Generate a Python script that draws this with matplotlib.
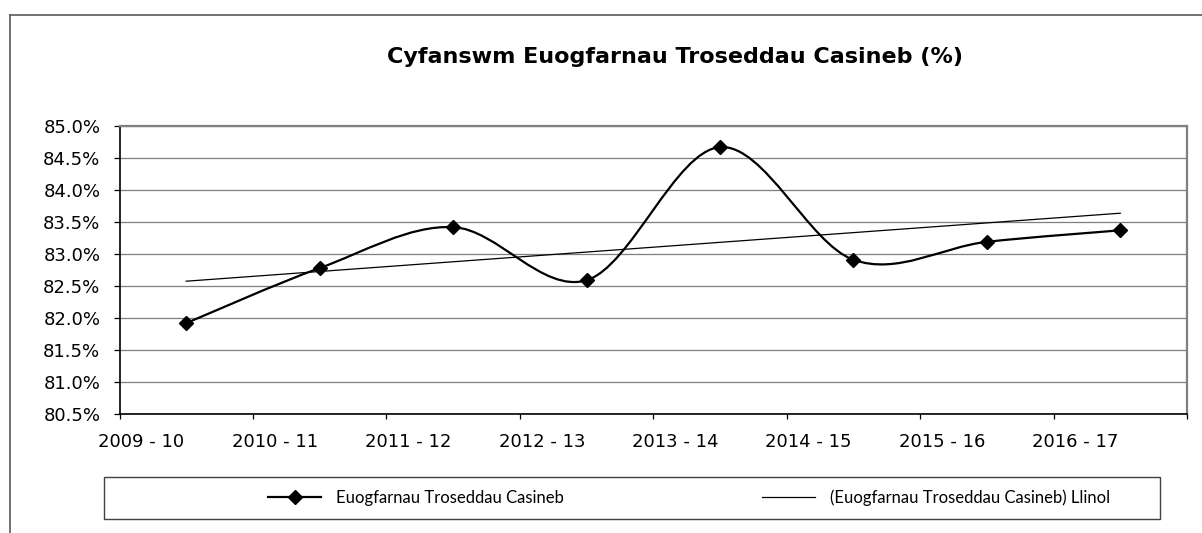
import numpy as np
import matplotlib
matplotlib.use("Agg")
import matplotlib.pyplot as plt
from matplotlib.path import Path
from matplotlib.patches import PathPatch, Rectangle
from matplotlib.lines import Line2D
from matplotlib.ticker import FixedLocator, FuncFormatter

# ---------------- data ----------------
categories = ["2009 - 10", "2010 - 11", "2011 - 12", "2012 - 13",
              "2013 - 14", "2014 - 15", "2015 - 16", "2016 - 17"]
values = [81.92, 82.78, 83.42, 82.59, 84.67, 82.91, 83.19, 83.37]
y_ticks = [80.5, 81.0, 81.5, 82.0, 82.5, 83.0, 83.5, 84.0, 84.5, 85.0]
title = "Cyfanswm Euogfarnau Troseddau Casineb (%)"
series_label = "Euogfarnau Troseddau Casineb"
trend_label = "(Euogfarnau Troseddau Casineb) Llinol"

W, H = 1202, 533
fig = plt.figure(figsize=(W / 100, H / 100), dpi=100)
fig.patch.set_facecolor("white")

def fx(px):
    return px / W

def fy(py):
    return 1 - py / H

ax_l, ax_r, ax_t, ax_b = 119.5, 1187, 126, 414
ax = fig.add_axes([fx(ax_l), fy(ax_b), fx(ax_r - ax_l), (ax_b - ax_t) / H])

n = len(values)
xpos = np.arange(n) + 0.5
y = np.array(values)

# smoothed line (Excel-like Catmull-Rom bezier)
P = np.column_stack([xpos, y])
verts = [P[0]]
codes = [Path.MOVETO]
for i in range(n - 1):
    p_prev = P[i - 1] if i > 0 else P[i]
    p_next2 = P[i + 2] if i + 2 < n else P[i + 1]
    c1 = P[i] + (P[i + 1] - p_prev) / 6.0
    c2 = P[i + 1] - (p_next2 - P[i]) / 6.0
    verts += [c1, c2, P[i + 1]]
    codes += [Path.CURVE4] * 3
ax.add_patch(PathPatch(Path(verts, codes), fill=False, edgecolor="black",
                       lw=1.6, capstyle="round", joinstyle="round", zorder=3))
ax.plot(xpos, y, ls="none", marker="D", ms=6.8, color="black", zorder=4)

# linear trend line
coef = np.polyfit(np.arange(1, n + 1), y, 1)
trend = np.polyval(coef, np.arange(1, n + 1))
ax.plot(xpos, trend, color="black", lw=0.9, zorder=3)

# axes
ax.set_xlim(0, n)
ax.set_ylim(y_ticks[0], y_ticks[-1])
ax.yaxis.set_major_locator(FixedLocator(y_ticks))
ax.yaxis.set_major_formatter(FuncFormatter(lambda v, p: f"{v:.1f}%"))
ax.yaxis.grid(True, color="#7f7f7f", lw=0.9)
ax.set_axisbelow(True)

ax.xaxis.set_major_locator(FixedLocator(np.arange(n + 1)))
ax.xaxis.set_major_formatter(FuncFormatter(lambda v, p: ""))
ax.xaxis.set_minor_locator(FixedLocator(np.arange(n) + 0.165))
ax.xaxis.set_minor_formatter(FuncFormatter(lambda v, p: categories[int(round(v - 0.165))]))
ax.tick_params(axis="x", which="major", direction="out", length=3.8, width=0.9, color="black")
ax.tick_params(axis="x", which="minor", length=0, pad=13.5, labelsize=13)
ax.tick_params(axis="y", direction="out", length=4.3, width=0.9, color="black", pad=9.5, labelsize=13)
for lab in ax.get_xticklabels(minor=True) + ax.get_yticklabels():
    lab.set_fontfamily("DejaVu Sans")
    lab.set_color("black")

for s in ["left", "bottom"]:
    ax.spines[s].set_color("black")
    ax.spines[s].set_linewidth(1.2)
for s in ["top", "right"]:
    ax.spines[s].set_color("#808080")
    ax.spines[s].set_linewidth(1.6)

# title
fig.text(fx(675), fy(57), title, ha="center", va="center", fontsize=16,
         fontweight="bold", family="DejaVu Sans")

# outer chart frame
fig.add_artist(Line2D([fx(10), fx(W + 5)], [fy(15), fy(15)], color="#595959", lw=1.2))
fig.add_artist(Line2D([fx(10), fx(10)], [fy(15), fy(H + 5)], color="#595959", lw=1.2))

# legend box
fig.add_artist(Rectangle((fx(104), fy(519)), fx(1160 - 104), (519 - 477) / H,
                         fill=False, edgecolor="#404040", lw=1.0))
leg_font = {"family": "Lato", "size": 12}
h1 = Line2D([], [], color="black", lw=1.6, marker="D", ms=6.8)
h2 = Line2D([], [], color="black", lw=0.9)
for handle, label, x0 in [(h1, series_label, 268), (h2, trend_label, 762)]:
    fig.legend([handle], [label], frameon=False, loc="center left",
               bbox_to_anchor=(fx(x0), fy(498)), borderpad=0, borderaxespad=0,
               prop=leg_font, handlelength=3.2, handletextpad=0.85)

fig.savefig("out.png", dpi=100)
